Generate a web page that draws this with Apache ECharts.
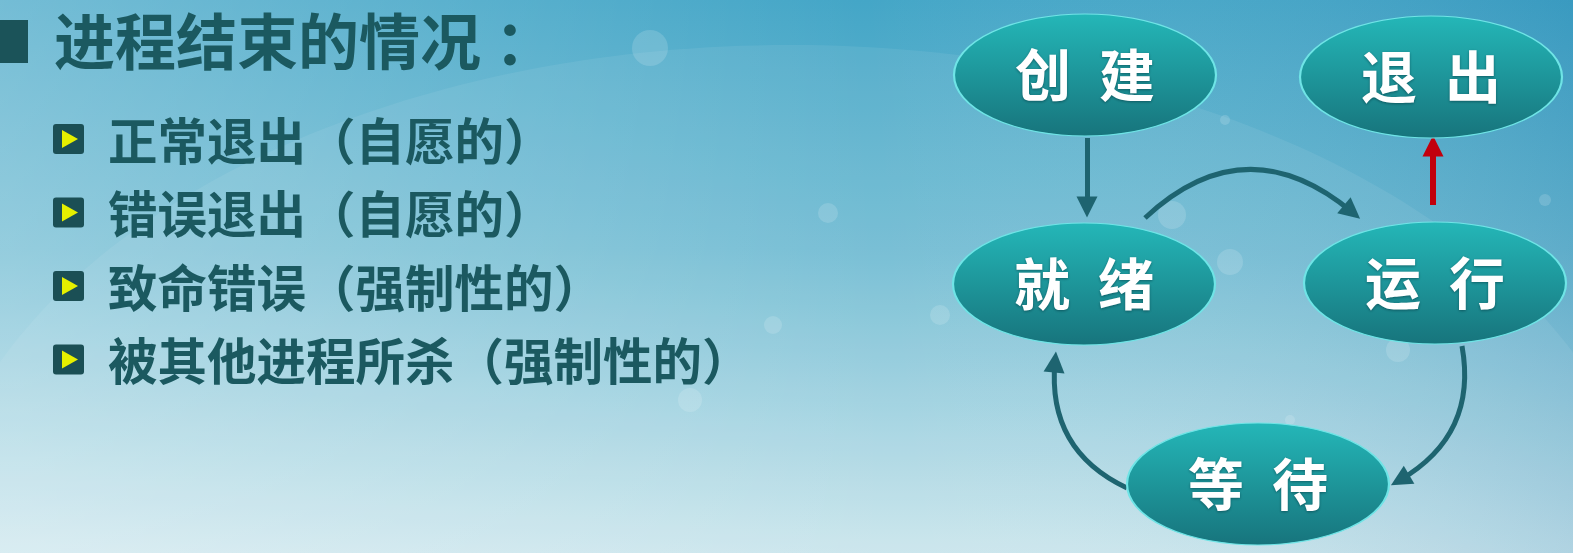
<!DOCTYPE html>
<html>
<head>
<meta charset="utf-8">
<script src="https://cdn.jsdelivr.net/npm/echarts@6/dist/echarts.min.js"></script>
<style>
  html, body { margin: 0; padding: 0; overflow: hidden; }
  #main { width: 1573px; height: 553px; }
</style>
</head>
<body>
<div id="main"></div>
<script>
// 左侧文字
var title = '进程结束的情况 ：';
var items = ['正常退出（自愿的）', '错误退出（自愿的）', '致命错误（强制性的）', '被其他进程所杀（强制性的）'];

// 状态节点（画布坐标）
var stateNames = ['创建', '退出', '就绪', '运行', '等待'];
var stateX = [1085, 1431, 1084, 1435, 1258];
var stateY = [75, 77, 284, 283, 484];

// 状态转换：起点、终点、弯曲度
var edgeNames = ['创建→就绪', '就绪→运行', '运行→退出', '运行→等待', '等待→就绪'];
var edgeStart = [[1087, 138], [1145, 218], [1433, 205], [1462, 346], [1127, 488]];
var edgeEnd = [[1087, 207], [1352, 212], [1433, 146], [1400, 480], [1055, 362]];
var edgeBend = [0, 0.44, 0, 0.35, 0.35];
var edgeRed = [false, false, true, false, false];

var myChart = echarts.init(document.getElementById('main'));

var nodeData = stateNames.map(function (n, i) { return [stateX[i], stateY[i], n]; });
var lineData = edgeNames.map(function (n, i) {
    return {
        name: n,
        coords: [edgeStart[i], edgeEnd[i]],
        lineStyle: {
            curveness: edgeBend[i],
            color: edgeRed[i] ? '#c2000c' : '#1e6470',
            width: edgeRed[i] ? 6 : 5,
            opacity: 1
        }
    };
});

var textColor = '#1b5960';
var graphics = [
    // 背景
    { type: 'rect', z: -10, shape: { x: 0, y: 0, width: 1573, height: 553 },
      style: { fill: new echarts.graphic.LinearGradient(0, 0, 0, 1, [
          { offset: 0, color: '#44a6c7' }, { offset: 0.45, color: '#6fbbd2' }, { offset: 1, color: '#c9e5ec' }]) } },
    { type: 'rect', z: -9, shape: { x: 0, y: 0, width: 1573, height: 553 },
      style: { fill: new echarts.graphic.LinearGradient(0, 0.2, 1, 0, [
          { offset: 0, color: 'rgba(255,255,255,0.26)' }, { offset: 0.55, color: 'rgba(255,255,255,0)' },
          { offset: 1, color: 'rgba(10,100,160,0.18)' }]) } },
    { type: 'ellipse', z: -8, shape: { cx: 790, cy: 570, rx: 860, ry: 525 },
      style: { fill: 'rgba(255,255,255,0.07)' } }
];
// 气泡装饰
[[650, 48, 18], [773, 325, 9], [1230, 262, 13], [1172, 215, 14], [940, 315, 10], [1398, 350, 12],
 [1225, 120, 5], [1545, 200, 6], [1290, 420, 5], [828, 213, 10], [690, 400, 12]].forEach(function (b) {
    graphics.push({ type: 'circle', z: -7, shape: { cx: b[0], cy: b[1], r: b[2] },
        style: { fill: 'rgba(255,255,255,0.15)' } });
});
// 标题及方块
graphics.push({ type: 'rect', shape: { x: -15, y: 20, width: 43, height: 43 }, style: { fill: '#1b5359' } });
graphics.push({ type: 'text', x: 54, y: 42, style: {
    text: title, fill: textColor, font: 'bold 61px "Noto Sans CJK SC"', verticalAlign: 'middle' } });
items.forEach(function (t, i) {
    var cy = 139 + i * 73.5;
    graphics.push({ type: 'rect', shape: { x: 53, y: cy - 15, width: 31, height: 30, r: 3 },
        style: { fill: '#1b4f55' } });
    graphics.push({ type: 'polygon', shape: { points: [[62, cy - 9], [62, cy + 9], [78, cy]] },
        style: { fill: '#e6f000' } });
    graphics.push({ type: 'text', x: 108, y: cy + 2, style: {
        text: t, fill: textColor, font: 'bold 49.5px "Noto Sans CJK SC"', verticalAlign: 'middle' } });
});

myChart.setOption({
    animation: false,
    graphic: graphics,
    grid: { left: 0, right: 0, top: 0, bottom: 0 },
    xAxis: { type: 'value', min: 0, max: 1573, show: false },
    yAxis: { type: 'value', min: 0, max: 553, inverse: true, show: false },
    series: [
        {
            type: 'lines',
            coordinateSystem: 'cartesian2d',
            z: 2,
            symbol: ['none', 'triangle'],
            symbolSize: [21, 21],
            data: lineData
        },
        {
            type: 'scatter',
            z: 3,
            symbol: 'circle',
            symbolSize: [262, 122],
            data: nodeData,
            itemStyle: {
                color: new echarts.graphic.LinearGradient(0, 0, 0, 1, [
                    { offset: 0, color: '#24b7b8' }, { offset: 1, color: '#17747c' }]),
                borderColor: '#6fe4e6',
                borderWidth: 1.5,
                opacity: 1
            },
            label: {
                show: true,
                position: 'inside',
                formatter: function (p) { return p.data[2].split('').join('\u2002'); },
                color: '#ffffff',
                fontSize: 56,
                fontWeight: 'bold',
                fontFamily: '"Noto Sans CJK SC"',
                textShadowColor: 'rgba(0,40,50,0.5)',
                textShadowBlur: 3,
                textShadowOffsetY: 1
            }
        }
    ]
});
</script>
</body>
</html>
